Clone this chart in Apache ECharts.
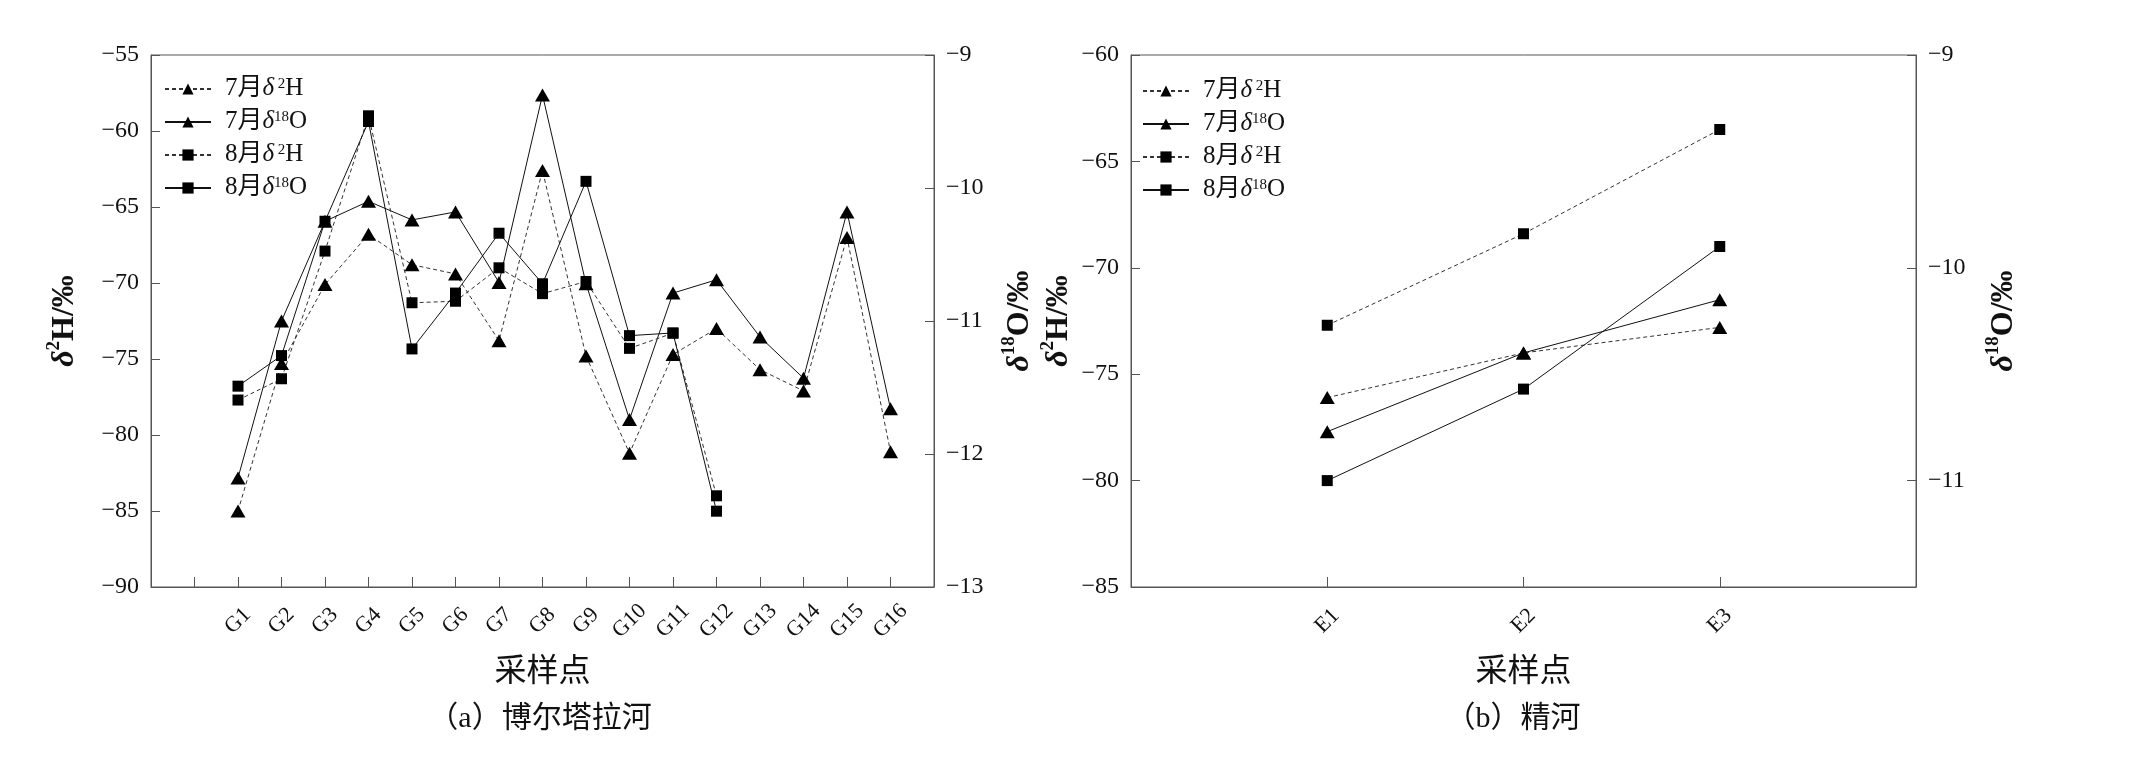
<!DOCTYPE html>
<html>
<head>
<meta charset="utf-8">
<script src="https://cdn.jsdelivr.net/npm/echarts@6/dist/echarts.min.js"></script>
<style>
  html, body { margin: 0; padding: 0; background: #fff; }
  #chart { width: 2148px; height: 765px; }
</style>
</head>
<body>
<div id="chart"></div>
<script>
// categories (blank slots keep the spacing of the original axes)
const catsA = ['', ' ', 'G1', 'G2', 'G3', 'G4', 'G5', 'G6', 'G7', 'G8', 'G9', 'G10', 'G11', 'G12', 'G13', 'G14', 'G15', 'G16', '  ']
const sitesA = ['G1', 'G2', 'G3', 'G4', 'G5', 'G6', 'G7', 'G8', 'G9', 'G10', 'G11', 'G12', 'G13', 'G14', 'G15', 'G16']
const catsB = ['', 'E1', 'E2', 'E3', ' ']
const sitesB = ['E1', 'E2', 'E3']

// (a) 博尔塔拉河
const jul2HA = [-85.0, -75.3, -70.1, -66.8, -68.8, -69.4, -73.8, -62.6, -74.8, -81.2, -74.7, -73.0, -75.7, -77.1, -67.0, -81.1]
const jul18OA = [-12.18, -11.0, -10.25, -10.1, -10.24, -10.18, -10.71, -9.3, -10.72, -11.74, -10.79, -10.69, -11.12, -11.43, -10.18, -11.66]
const aug2HA = [-77.7, -76.3, -67.9, -59.0, -71.3, -71.2, -69.0, -70.7, -69.9, -74.3, -73.3, -84.0]
const aug18OA = [-11.49, -11.26, -10.25, -9.5, -11.21, -10.79, -10.34, -10.72, -9.95, -11.11, -11.09, -12.43]

// (b) 精河
const jul2HB = [-76.1, -74.0, -72.8]
const jul18OB = [-10.77, -10.4, -10.15]
const aug2HB = [-72.7, -68.4, -63.5]
const aug18OB = [-11.0, -10.57, -9.9]

const names = ['7月δ2H', '7月δ18O', '8月δ2H', '8月δ18O']
const richNames = {
  '7月δ2H': '{p| }{a|7月}{d|δ}{s| 2}{a|H}',
  '7月δ18O': '{p| }{a|7月}{d|δ}{s|18}{a|O}',
  '8月δ2H': '{p| }{a|8月}{d|δ}{s| 2}{a|H}',
  '8月δ18O': '{p| }{a|8月}{d|δ}{s|18}{a|O}'
}

const serif = 'Liberation Serif'
const mixed = 'Liberation Serif, Noto Sans CJK SC, serif'

function pairs (sites, vals) {
  return vals.map((v, i) => [sites[i], v])
}

function makeSeries (name, sites, vals, gridIdx, right) {
  const dashed = name.indexOf('2H') > 0
  const tri = name.indexOf('7月') === 0
  return {
    name: name,
    type: 'line',
    xAxisIndex: gridIdx,
    yAxisIndex: gridIdx * 2 + (right ? 1 : 0),
    data: pairs(sites, vals),
    symbol: tri ? 'triangle' : 'rect',
    symbolSize: tri ? [15, 13] : 11,
    itemStyle: { color: '#000' },
    lineStyle: { color: dashed ? '#333' : '#111', width: 1, type: dashed ? [4, 3] : 'solid' },
    z: 3
  }
}

const legendRich = {
  p: { width: 9, fontSize: 10, lineHeight: 24 },
  a: { fontFamily: mixed, fontSize: 25, color: '#111', lineHeight: 24, verticalAlign: 'bottom' },
  d: { fontFamily: serif, fontStyle: 'italic', fontSize: 25, color: '#111', lineHeight: 24, verticalAlign: 'bottom' },
  s: { fontFamily: serif, fontSize: 15, color: '#111', lineHeight: 14, verticalAlign: 'top' }
}

function legendAt (left, top) {
  return {
    orient: 'vertical',
    left: left,
    top: top,
    data: names,
    itemWidth: 46,
    itemHeight: 14,
    itemGap: 8,
    padding: 0,
    formatter: n => richNames[n],
    textStyle: { rich: legendRich }
  }
}

const axisRich = {
  d: { fontFamily: serif, fontStyle: 'italic', fontWeight: 'bold', fontSize: 32, color: '#111', lineHeight: 36, verticalAlign: 'bottom' },
  s: { fontFamily: serif, fontWeight: 'bold', fontSize: 19, color: '#111', lineHeight: 20, verticalAlign: 'top' },
  n: { fontFamily: serif, fontWeight: 'bold', fontSize: 32, color: '#111', lineHeight: 36, verticalAlign: 'bottom' }
}

function yAxis (gridIdx, pos, min, max, interval, name, gap, extra) {
  return Object.assign({
    type: 'value',
    gridIndex: gridIdx,
    position: pos,
    min: min,
    max: max,
    interval: interval,
    name: name,
    nameLocation: 'middle',
    nameRotate: 90,
    nameGap: gap,
    nameTextStyle: { rich: axisRich },
    axisLine: { show: true, lineStyle: { color: '#555', width: 1 } },
    axisTick: { show: true, inside: true, length: 9, lineStyle: { color: '#555' } },
    axisLabel: { fontFamily: serif, fontSize: 24, color: '#111', margin: 12 },
    splitLine: { show: false }
  }, extra || {})
}

function xAxis (gridIdx, cats) {
  return {
    type: 'category',
    gridIndex: gridIdx,
    data: cats,
    boundaryGap: false,
    name: '采样点',
    nameLocation: 'middle',
    nameGap: 70,
    nameTextStyle: { fontFamily: mixed, fontSize: 32, color: '#111' },
    axisLine: { lineStyle: { color: '#555', width: 1 } },
    axisTick: { inside: true, length: 10, lineStyle: { color: '#555' } },
    axisLabel: { fontFamily: serif, fontSize: 22, color: '#111', rotate: 45, align: 'center', verticalAlign: 'middle', margin: 34, interval: 0 },
    splitLine: { show: false }
  }
}

const chart = echarts.init(document.getElementById('chart'))
const options = {
  backgroundColor: '#fff',
  animation: false,
  title: [
    { text: '（a）博尔塔拉河', left: 540, top: 704, textAlign: 'center', padding: 0,
      textStyle: { fontFamily: mixed, fontSize: 30, fontWeight: 'normal', color: '#111' } },
    { text: '（b）精河', left: 1513, top: 704, textAlign: 'center', padding: 0,
      textStyle: { fontFamily: mixed, fontSize: 30, fontWeight: 'normal', color: '#111' } }
  ],
  legend: [legendAt(164, 76), legendAt(1142, 78)],
  grid: [
    { left: 151, top: 55, width: 783, height: 532, show: true, borderColor: '#555', borderWidth: 1, backgroundColor: 'transparent' },
    { left: 1131, top: 55, width: 785, height: 532, show: true, borderColor: '#555', borderWidth: 1, backgroundColor: 'transparent' }
  ],
  xAxis: [xAxis(0, catsA), xAxis(1, catsB)],
  yAxis: [
    yAxis(0, 'left', -90, -55, 5, '{d|δ}{s|2}{n|H/‰}', 70),
    yAxis(0, 'right', -13, -9, 1, '{d|δ}{s|18}{n|O/‰}', 66),
    yAxis(1, 'left', -85, -60, 5, '{d|δ}{s|2}{n|H/‰}', 56),
    yAxis(1, 'right', -11.5, -9, null, '{d|δ}{s|18}{n|O/‰}', 68, {
      splitNumber: 2,
      axisLabel: { fontFamily: serif, fontSize: 24, color: '#111', margin: 12,
        formatter: v => (Math.abs(v - Math.round(v)) < 1e-6 ? String(v).replace('-', '−') : '') }
    })
  ],
  series: [
    makeSeries('7月δ2H', sitesA, jul2HA, 0, false),
    makeSeries('7月δ18O', sitesA, jul18OA, 0, true),
    makeSeries('8月δ2H', sitesA, aug2HA, 0, false),
    makeSeries('8月δ18O', sitesA, aug18OA, 0, true),
    makeSeries('7月δ2H', sitesB, jul2HB, 1, false),
    makeSeries('7月δ18O', sitesB, jul18OB, 1, true),
    makeSeries('8月δ2H', sitesB, aug2HB, 1, false),
    makeSeries('8月δ18O', sitesB, aug18OB, 1, true)
  ]
}
// minus sign like the original labels
options.yAxis.slice(0, 3).forEach(ax => {
  ax.axisLabel.formatter = v => String(v).replace('-', '−')
})
chart.setOption(options)
</script>
</body>
</html>
